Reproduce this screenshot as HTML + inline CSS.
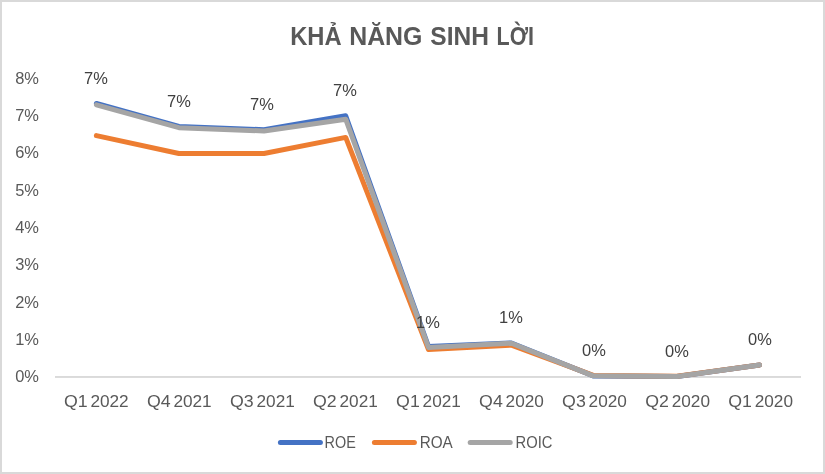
<!DOCTYPE html>
<html>
<head>
<meta charset="utf-8">
<title>KHẢ NĂNG SINH LỜI</title>
<style>
  html, body { margin: 0; padding: 0; background: #ffffff; }
  body { width: 825px; height: 474px; overflow: hidden; font-family: "Liberation Sans", sans-serif; }
  svg { display: block; will-change: transform; }
  text { font-family: "Liberation Sans", sans-serif; }
  .ax { font-size: 16.4px; fill: #595959; }
  .dl { font-size: 16.4px; fill: #404040; }
  .lg { font-size: 17.2px; fill: #595959; }
  .title { font-size: 25.6px; font-weight: bold; fill: #595959; }
</style>
</head>
<body>
<svg width="825" height="474" viewBox="0 0 825 474">
  <rect x="0" y="0" width="825" height="474" fill="#ffffff"/>
  <rect x="1" y="1" width="823" height="472" fill="none" stroke="#d9d9d9" stroke-width="2"/>

  <!-- title -->
  <g class="title">
    <text x="290.2" y="44.9" textLength="51.4" lengthAdjust="spacingAndGlyphs">KHẢ</text>
    <text x="349.2" y="44.9" textLength="73.2" lengthAdjust="spacingAndGlyphs">NĂNG</text>
    <text x="430.3" y="44.9" textLength="58.6" lengthAdjust="spacingAndGlyphs">SINH</text>
    <text x="496.6" y="44.9" textLength="37.4" lengthAdjust="spacingAndGlyphs">LỜI</text>
  </g>

  <!-- axis line -->
  <rect x="55" y="376.05" width="746" height="1.85" fill="#d9d9d9"/>

  <!-- y labels -->
  <g class="ax">
    <text x="15.2" y="83.6" textLength="23.8" lengthAdjust="spacingAndGlyphs">8%</text>
    <text x="15.2" y="120.9" textLength="23.8" lengthAdjust="spacingAndGlyphs">7%</text>
    <text x="15.2" y="158.3" textLength="23.8" lengthAdjust="spacingAndGlyphs">6%</text>
    <text x="15.2" y="195.6" textLength="23.8" lengthAdjust="spacingAndGlyphs">5%</text>
    <text x="15.2" y="232.9" textLength="23.8" lengthAdjust="spacingAndGlyphs">4%</text>
    <text x="15.2" y="270.3" textLength="23.8" lengthAdjust="spacingAndGlyphs">3%</text>
    <text x="15.2" y="307.6" textLength="23.8" lengthAdjust="spacingAndGlyphs">2%</text>
    <text x="15.2" y="344.9" textLength="23.8" lengthAdjust="spacingAndGlyphs">1%</text>
    <text x="15.2" y="382.3" textLength="23.8" lengthAdjust="spacingAndGlyphs">0%</text>
  </g>

  <!-- x labels -->
  <g class="ax">
    <text x="63.9" y="407.1" textLength="23.7" lengthAdjust="spacingAndGlyphs">Q1</text><text x="90.4" y="407.1" textLength="38.3" lengthAdjust="spacingAndGlyphs">2022</text>
    <text x="146.9" y="407.1" textLength="23.7" lengthAdjust="spacingAndGlyphs">Q4</text><text x="173.4" y="407.1" textLength="38.3" lengthAdjust="spacingAndGlyphs">2021</text>
    <text x="230.0" y="407.1" textLength="23.7" lengthAdjust="spacingAndGlyphs">Q3</text><text x="256.5" y="407.1" textLength="38.3" lengthAdjust="spacingAndGlyphs">2021</text>
    <text x="313.0" y="407.1" textLength="23.7" lengthAdjust="spacingAndGlyphs">Q2</text><text x="339.5" y="407.1" textLength="38.3" lengthAdjust="spacingAndGlyphs">2021</text>
    <text x="396.1" y="407.1" textLength="23.7" lengthAdjust="spacingAndGlyphs">Q1</text><text x="422.6" y="407.1" textLength="38.3" lengthAdjust="spacingAndGlyphs">2021</text>
    <text x="479.1" y="407.1" textLength="23.7" lengthAdjust="spacingAndGlyphs">Q4</text><text x="505.6" y="407.1" textLength="38.3" lengthAdjust="spacingAndGlyphs">2020</text>
    <text x="562.1" y="407.1" textLength="23.7" lengthAdjust="spacingAndGlyphs">Q3</text><text x="588.6" y="407.1" textLength="38.3" lengthAdjust="spacingAndGlyphs">2020</text>
    <text x="645.2" y="407.1" textLength="23.7" lengthAdjust="spacingAndGlyphs">Q2</text><text x="671.7" y="407.1" textLength="38.3" lengthAdjust="spacingAndGlyphs">2020</text>
    <text x="728.2" y="407.1" textLength="23.7" lengthAdjust="spacingAndGlyphs">Q1</text><text x="754.7" y="407.1" textLength="38.3" lengthAdjust="spacingAndGlyphs">2020</text>
  </g>

  <!-- series -->
  <g fill="none" stroke-width="5" stroke-linecap="round" stroke-linejoin="round">
    <polyline stroke="#4472c4" points="96.4,103.5 178.9,126.5 264.0,129.7 345.7,115.8 428.5,346.5 511.4,342.95 593.3,375.9 676.9,376.5 759.5,364.9"/>
    <polyline stroke="#ed7d31" points="96.4,135.6 178.9,153.5 264.0,153.5 345.7,137.4 428.5,349.6 511.4,345.1 593.3,375.45 676.9,376.2 759.5,364.9"/>
    <polyline stroke="#a5a5a5" points="96.4,104.8 178.9,127.7 264.0,131.0 345.7,119.2 428.5,347.5 511.4,343.2 593.3,375.85 676.9,376.5 759.5,364.9"/>
  </g>

  <!-- data labels -->
  <g class="dl">
    <text x="84" y="84" textLength="23.8" lengthAdjust="spacingAndGlyphs">7%</text>
    <text x="167" y="107" textLength="23.8" lengthAdjust="spacingAndGlyphs">7%</text>
    <text x="250" y="110" textLength="23.8" lengthAdjust="spacingAndGlyphs">7%</text>
    <text x="333" y="96" textLength="23.8" lengthAdjust="spacingAndGlyphs">7%</text>
    <text x="416" y="328" textLength="23.8" lengthAdjust="spacingAndGlyphs">1%</text>
    <text x="499" y="323" textLength="23.8" lengthAdjust="spacingAndGlyphs">1%</text>
    <text x="582" y="356" textLength="23.8" lengthAdjust="spacingAndGlyphs">0%</text>
    <text x="665" y="357" textLength="23.8" lengthAdjust="spacingAndGlyphs">0%</text>
    <text x="748" y="345" textLength="23.8" lengthAdjust="spacingAndGlyphs">0%</text>
  </g>

  <!-- legend -->
  <g fill="none" stroke-width="5" stroke-linecap="round">
    <line x1="280.4" y1="442.5" x2="320.4" y2="442.5" stroke="#4472c4"/>
    <line x1="374.4" y1="442.5" x2="414.4" y2="442.5" stroke="#ed7d31"/>
    <line x1="470.2" y1="442.5" x2="510.2" y2="442.5" stroke="#a5a5a5"/>
  </g>
  <g class="lg">
    <text x="324.6" y="448.2" textLength="31.2" lengthAdjust="spacingAndGlyphs">ROE</text>
    <text x="419.7" y="448.2" textLength="33.1" lengthAdjust="spacingAndGlyphs">ROA</text>
    <text x="515.5" y="448.2" textLength="36.9" lengthAdjust="spacingAndGlyphs">ROIC</text>
  </g>
</svg>
</body>
</html>
